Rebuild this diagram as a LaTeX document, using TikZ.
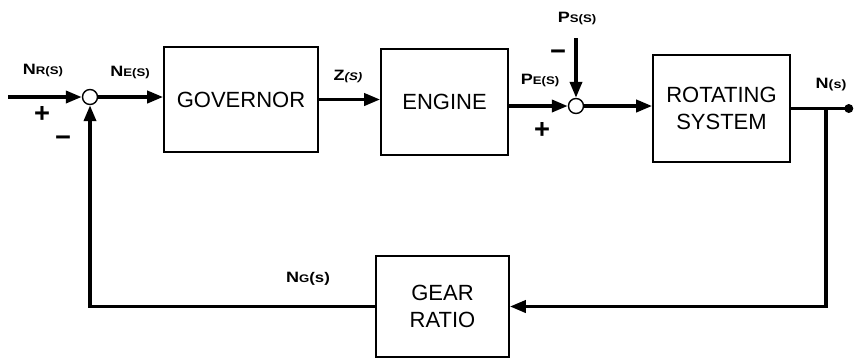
\documentclass[tikz,border=0pt]{standalone}
\usepackage{fontspec}
\setmainfont{Liberation Sans}
\usetikzlibrary{arrows.meta}
\newcommand{\sigl}[2]{\scalebox{1.2}[1]{\bfseries{\fontsize{15}{15}\selectfont #1}{\fontsize{11}{11}\selectfont #2}}}
\newcommand{\sgn}[1]{\scalebox{1.3}[1.3]{\fontsize{21}{21}\selectfont\bfseries #1}}

\begin{document}
\begin{tikzpicture}[x=1pt, y=-1pt, >={Triangle[length=16pt,width=12pt]},
        blk/.style={draw, line width=1.6pt, inner sep=0pt, align=center, font=\fontsize{22}{27}\selectfont},
        sum/.style={draw, circle, line width=1.4pt, minimum size=15pt, inner sep=0pt},
        sig/.style={line width=3.6pt}]
        \useasboundingbox (0,0) rectangle (855,360);
        % blocks
        \node[blk, minimum width=154pt, minimum height=105pt] (gov) at (241,99.5) {GOVERNOR};
        \node[blk, minimum width=127pt, minimum height=106pt] (eng) at (444.5,102) {ENGINE};
        \node[blk, minimum width=137pt, minimum height=107pt] (rot) at (721.5,108.5) {ROTATING\\SYSTEM};
        \node[blk, minimum width=133pt, minimum height=101pt] (gear) at (442.5,306.5) {GEAR\\RATIO};
        \node[sum] (sum1) at (90,97) {};
        \node[sum] (sum2) at (576,106) {};
        \coordinate (in) at (8,97);
        \coordinate (ps) at (576,38);
        \coordinate (br) at ([xshift=35pt]rot.east);
        \coordinate (out) at ([xshift=58pt]rot.east);
        % signals
        \draw[sig,->] (in) -- (sum1.west);
        \draw[sig,->] (sum1.east) -- (sum1.east -| gov.west);
        \draw[sig,->] (gov.east) -- (gov.east -| eng.west);
        \draw[sig,->] (eng.east |- sum2) -- (sum2.west);
        \draw[sig,->] (ps) -- (sum2.north);
        \draw[sig,->] (sum2.east) -- (sum2.east -| rot.west);
        \draw[sig] (rot.east) -- (out);
        \fill (out) circle (4.5pt);
        \draw[sig,->] (br) |- (gear.east);
        \draw[sig,->] (gear.west) -| (sum1.south);
        % labels
        \node (nr) at (43,70) {\sigl{N}{R(S)}};
        \node (ne) at (130,72) {\sigl{N}{E(S)}};
        \node (zs) at (348,76) {\sigl{Z}{\itshape(S)}};
        \node (pe) at (540,80) {\sigl{P}{E(S)}};
        \node (pss) at (577,18) {\sigl{P}{S(S)}};
        \node (ns) at (831,85) {\scalebox{1.2}[1]{\bfseries{\fontsize{15}{15}\selectfont N}{\fontsize{12}{12}\selectfont(s)}}};
        \node (ng) at (308,279) {\scalebox{1.2}[1]{\bfseries{\fontsize{15}{15}\selectfont N}{\fontsize{11}{11}\selectfont G}{\fontsize{14}{14}\selectfont(s)}}};
        \node (p1) at (42,114) {\sgn{+}};
        \node (m1) at (63,141) {\sgn{−}};
        \node (p2) at (542,130) {\sgn{+}};
        \node (m2) at (558,55) {\sgn{−}};
    \end{tikzpicture}
\end{document}
